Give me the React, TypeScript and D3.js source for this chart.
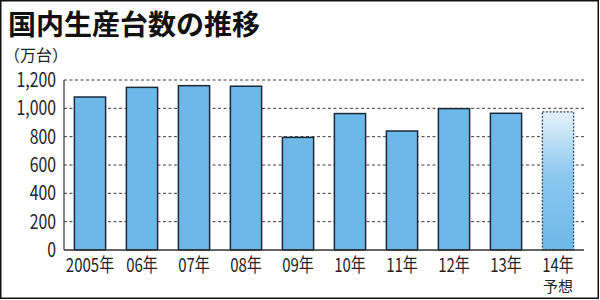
import React from "react";
import * as d3 from "d3";

const categories = ["2005年", "06年", "07年", "08年", "09年", "10年", "11年", "12年", "13年", "14年"];
const values = [1080, 1148, 1160, 1156, 795, 963, 840, 998, 965, 975];
const forecastFlags = [false, false, false, false, false, false, false, false, false, true];
const yTicks = [0, 200, 400, 600, 800, 1000, 1200];
const yTickLabels = ["0", "200", "400", "600", "800", "1,000", "1,200"];
const title = "国内生産台数の推移";
const unitLabel = "（万台）";
const forecastNote = "予想";

const W = 600;
const H = 300;
const CJK_FONT = "'Noto Sans CJK JP', sans-serif";
const SQUEEZE = 0.79;

function Narrow({ x, y, anchor, size, children }: { x: number; y: number; anchor: string; size: number; children: React.ReactNode }) {
  return (
    <g transform={`translate(${x},${y}) scale(${SQUEEZE},1)`}>
      <text x={0} y={0} textAnchor={anchor} fontFamily={CJK_FONT} fontSize={size} fill="#222">
        {children}
      </text>
    </g>
  );
}

export default function App() {
  const x = d3.scaleBand<string>().domain(categories).range([64, 584]).paddingInner(0.4).paddingOuter(0.2);
  const y = d3.scaleLinear().domain([0, 1200]).range([250, 80]);

  return (
    <div style={{ position: "fixed", left: 0, top: 0 }}>
      <svg width={W} height={H} style={{ display: "block", background: "#fff" }}>
        <defs>
          <linearGradient id="fc" x1="0" y1="0" x2="0" y2="1">
            <stop offset="0" stopColor="#e4f2fb" />
            <stop offset="0.45" stopColor="#8cc8ee" />
            <stop offset="1" stopColor="#6cb8e8" />
          </linearGradient>
        </defs>
        <rect x={0.75} y={0.75} width={W - 2.5} height={H - 2.5} fill="#fff" stroke="#111" strokeWidth={1.5} />
        <text x={8} y={35} fontFamily={CJK_FONT} fontWeight={700} fontSize={28} fill="#111">{title}</text>
        <text x={4} y={61} fontFamily={CJK_FONT} fontSize={16} fill="#222">{unitLabel}</text>
        {yTicks.filter((t) => t > 0).map((t) => (
          <line key={"g" + t} x1={64} x2={584} y1={y(t)} y2={y(t)} stroke="#3a3a3a" strokeWidth={1} strokeDasharray="3,2.5" />
        ))}
        {yTicks.map((t, i) => (
          <Narrow key={"t" + t} x={56} y={y(t) + 7} anchor="end" size={20}>
            {yTickLabels[i]}
          </Narrow>
        ))}
        {categories.map((c, i) =>
          forecastFlags[i] ? (
            <rect key={c} x={x(c)!} y={y(values[i])} width={x.bandwidth()} height={y(0) - y(values[i])}
              fill="url(#fc)" stroke="#2c4a66" strokeWidth={1.3} strokeDasharray="2,1.5" />
          ) : (
            <rect key={c} x={x(c)!} y={y(values[i])} width={x.bandwidth()} height={y(0) - y(values[i])}
              fill="#6cb8e8" stroke="#1a2838" strokeWidth={1.5} />
          )
        )}
        <line x1={64} x2={64} y1={80} y2={250} stroke="#333" strokeWidth={1.2} />
        <line x1={64} x2={584} y1={250} y2={250} stroke="#333" strokeWidth={1.5} />
        {categories.map((c) => (
          <Narrow key={"x" + c} x={x(c)! + x.bandwidth() / 2} y={272} anchor="middle" size={19}>
            {c}
          </Narrow>
        ))}
        <text x={x(categories[9])! + x.bandwidth() / 2} y={292} textAnchor="middle" fontFamily={CJK_FONT} fontSize={15} fill="#222">
          {forecastNote}
        </text>
      </svg>
    </div>
  );
}
